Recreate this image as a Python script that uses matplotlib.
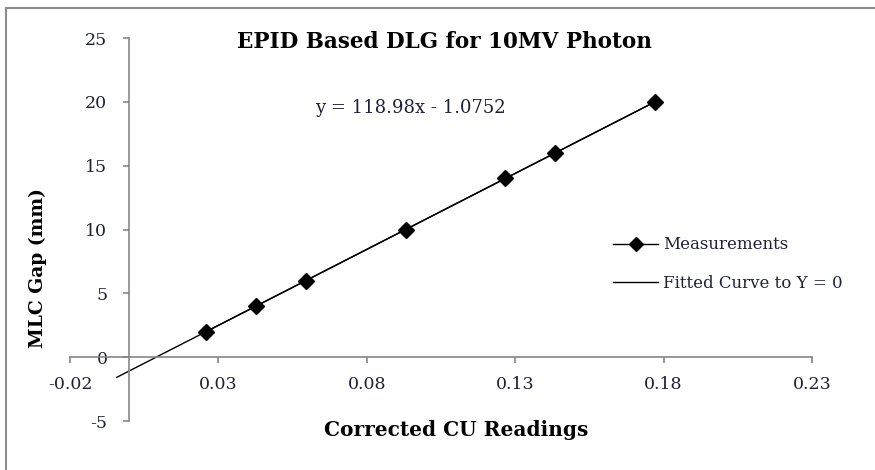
import matplotlib
matplotlib.use("Agg")
import matplotlib.pyplot as plt
from matplotlib.lines import Line2D

# Data
cu_readings = [0.0259, 0.0427, 0.0595, 0.0931, 0.1267, 0.1435, 0.1771]
mlc_gap = [2, 4, 6, 10, 14, 16, 20]
fit_x = [-0.0042, 0.1771]
fit_y = [-1.575, 20.0]
x_ticks = [-0.02, 0.03, 0.08, 0.13, 0.18, 0.23]
y_ticks = [-5, 0, 5, 10, 15, 20, 25]

serif = ["DejaVu Serif"]
tick_color = "#1f1f3a"
axis_color = "#868686"

fig = plt.figure(figsize=(8.75, 4.7), dpi=100)
ax = fig.add_axes([70 / 875, 49 / 470, 742 / 875, 383 / 470])
ax.set_xlim(-0.02, 0.23)
ax.set_ylim(-5, 25)

ax.plot(fit_x, fit_y, color="black", lw=1.0, zorder=2)
ax.plot(cu_readings, mlc_gap, color="black", lw=1.0, marker="D", ms=8,
        markerfacecolor="black", markeredgecolor="black", zorder=3)

for s in ["top", "right"]:
    ax.spines[s].set_visible(False)
ax.spines["left"].set_position(("data", 0))
ax.spines["bottom"].set_position(("data", 0))
ax.spines["left"].set_color(axis_color)
ax.spines["bottom"].set_color(axis_color)
ax.spines["left"].set_linewidth(1.2)
ax.spines["bottom"].set_linewidth(1.2)

ax.set_xticks(x_ticks)
ax.set_xticklabels([f"{v:.2f}" for v in x_ticks], family=serif, fontsize=12.5, color=tick_color)
ax.set_yticks(y_ticks)
ax.set_yticklabels([str(v) for v in y_ticks], family=serif, fontsize=12.5, color=tick_color)
ax.tick_params(axis="x", direction="out", length=4.3, color=axis_color, width=1.2, pad=9.4)
ax.tick_params(axis="y", direction="out", length=4.3, color=axis_color, width=1.2, pad=11.5)

fig.text(444 / 875, 1 - 42 / 470, "EPID Based DLG for 10MV Photon", family=serif,
         fontsize=15.5, fontweight="bold", ha="center", va="center")
fig.text(410 / 875, 1 - 108 / 470, "y = 118.98x - 1.0752", family=serif,
         fontsize=13, ha="center", va="center", color=tick_color)
fig.text(456 / 875, 1 - 430 / 470, "Corrected CU Readings", family=serif,
         fontsize=14.5, fontweight="bold", ha="center", va="center")
fig.text(38 / 875, 1 - 268 / 470, "MLC Gap (mm)", family=serif, rotation=90,
         fontsize=13.5, fontweight="bold", ha="center", va="center")

handles = [Line2D([], [], color="black", lw=1.0, marker="D", ms=7),
           Line2D([], [], color="black", lw=1.0)]
leg = fig.legend(handles, ["Measurements", "Fitted Curve to Y = 0"],
                 loc="center left", bbox_to_anchor=(598 / 875, 1 - 264 / 470),
                 frameon=False, prop={"family": serif, "size": 12},
                 handlelength=2.7, labelspacing=1.28, handletextpad=0.3)
for t in leg.get_texts():
    t.set_color(tick_color)

# Chart-area border (top and left visible)
fig.add_artist(Line2D([6 / 875, 6 / 875], [0, 1 - 8 / 470], transform=fig.transFigure,
                      color="#8c8c8c", lw=1.5))
fig.add_artist(Line2D([6 / 875, 1], [1 - 8 / 470, 1 - 8 / 470], transform=fig.transFigure,
                      color="#8c8c8c", lw=1.5))

fig.savefig("out.png", dpi=100)
